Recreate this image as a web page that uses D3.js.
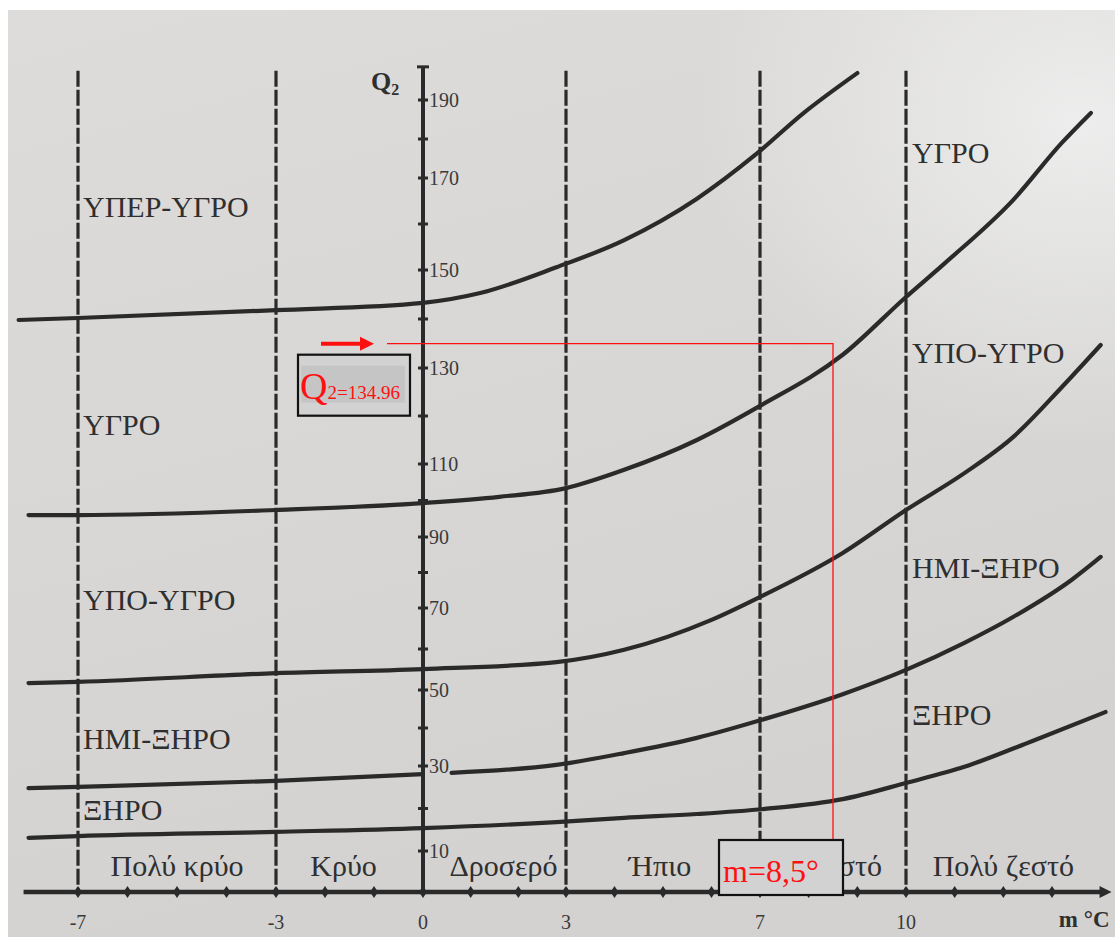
<!DOCTYPE html>
<html lang="el">
<head>
<meta charset="utf-8">
<title>Κλιματόγραμμα Emberger</title>
<script src="https://cdn.jsdelivr.net/npm/d3@7/dist/d3.min.js"></script>
<style>
  html, body { margin: 0; padding: 0; background: #ffffff; }
  svg { display: block; }
  text { font-family: "Liberation Serif", "Times New Roman", serif; }
</style>
</head>
<body>
<svg id="chart" width="1115" height="937"></svg>
<script>
// ---- data -------------------------------------------------------------
// winter minimum temperature m (°C): grid lines and tick labels
const mTicks = [-7, -3, 0, 3, 7, 10];
// pluviothermic quotient Q2: labelled ticks
const q2Ticks = [10, 30, 50, 70, 90, 110, 130, 150, 170, 190];

// bioclimatic zones (left column and right column labels)
const zonesLeft = ["ΥΠΕΡ-ΥΓΡΟ", "ΥΓΡΟ", "ΥΠΟ-ΥΓΡΟ", "ΗΜΙ-ΞΗΡΟ", "ΞΗΡΟ"];
const zonesRight = ["ΥΓΡΟ", "ΥΠΟ-ΥΓΡΟ", "ΗΜΙ-ΞΗΡΟ", "ΞΗΡΟ"];
// Q2 level at which each zone name sits
const zonesLeftQ = [161.5, 116.0, 69.5, 34.5, 17.3];
const zonesRightQ = [173.8, 131.0, 78.5, 40.8];

// winter variants and their m limits
const winterClasses = ["Πολύ κρύο", "Κρύο", "Δροσερό", "Ήπιο", "Ζεστό", "Πολύ ζεστό"];
const winterBounds = [-7, -3, 0, 3, 7, 10, 14];

// zone boundaries as [m, Q2] pairs
const boundaryPerhumid = [
  [-8.2, 139.8], [-7, 140.2], [-3, 141.8], [0, 143.3], [1.2, 145.3], [2.8, 150.6],
  [4.2, 156.5], [5.7, 165.5], [6.9, 175.9], [7.9, 186.7], [9.0, 196.9]
];
const boundaryHumid = [
  [-8.0, 96.0], [-7, 96.0], [-3, 97.4], [0, 99.3], [1.6, 101.0], [3, 103.4],
  [4.2, 108.4], [5.7, 115.0], [7, 122.1], [8.7, 132.7], [10, 144.5],
  [10.8, 151.5], [12.2, 165.2], [13.2, 179.0], [13.8, 186.7]
];
const boundarySubhumid = [
  [-8.0, 51.7], [-7, 52.0], [-3, 54.1], [0, 55.1], [2.8, 56.8], [4.2, 59.8],
  [6.0, 67.1], [7, 73.1], [8.7, 85.5], [10, 97.4], [11.2, 107.5], [12.2, 115.6],
  [13.2, 126.0], [14.0, 134.7]
];
const boundarySemiaridWest = [[-8.0, 24.8], [-7, 25.1], [-3, 26.5], [0, 28.1]];
const boundarySemiaridEast = [
  [0.6, 28.4], [2.8, 30.3], [4.2, 33.4], [5.7, 37.4], [7.1, 42.4], [8.7, 48.9],
  [10, 54.9], [11.2, 61.5], [12.2, 67.8], [13.4, 77.9], [14.0, 84.4]
];
const boundaryArid = [
  [-8.0, 13.1], [-7, 13.5], [-3, 14.5], [0, 15.4], [2.8, 16.8], [4.2, 17.8],
  [5.7, 18.7], [7.1, 19.9], [8.7, 22.2], [10, 26.0], [11.2, 29.8], [12.6, 36.6],
  [14.1, 44.2]
];

// station reading marked on the diagram
const stationQ2 = 134.96;
const stationM = 8.5;

// ---- scales -----------------------------------------------------------
const svg = d3.select("#chart");
const W = 1115, H = 937;

// the printed grid is not perfectly regular, so both scales are piecewise
const x = d3.scaleLinear()
  .domain([-7, -3, 0, 3, 7, 10])
  .range([78, 276, 423, 566, 760, 906]);
const y = d3.scaleLinear()
  .domain([0, 10, 30, 50, 70, 90, 110, 130, 150, 170, 190])
  .range([892, 851, 766, 690, 608, 537, 464, 368, 270, 178, 100]);

const ink = "#2a2a2a";
const textInk = "#2f2f2f";

// ---- paper ------------------------------------------------------------
const defs = svg.append("defs");
const paper = defs.append("linearGradient").attr("id", "paper")
  .attr("x1", "0").attr("y1", "0").attr("x2", "0.3").attr("y2", "1");
paper.append("stop").attr("offset", "0").attr("stop-color", "#dddcda");
paper.append("stop").attr("offset", "1").attr("stop-color", "#d3d2d1");
const glare = defs.append("radialGradient").attr("id", "glare")
  .attr("cx", "0.97").attr("cy", "0.12").attr("r", "0.35");
glare.append("stop").attr("offset", "0").attr("stop-color", "#f2f2f2").attr("stop-opacity", 0.8);
glare.append("stop").attr("offset", "1").attr("stop-color", "#f2f2f2").attr("stop-opacity", 0);

svg.append("rect").attr("width", W).attr("height", H).attr("fill", "#ffffff");
svg.append("rect").attr("x", 8).attr("y", 10).attr("width", W - 8).attr("height", H - 10)
  .attr("fill", "url(#paper)");
svg.append("rect").attr("x", 8).attr("y", 10).attr("width", W - 8).attr("height", H - 10)
  .attr("fill", "url(#glare)");

const g = svg.append("g");

// ---- dashed m grid lines ---------------------------------------------
const gridTopQ = 197.5;
g.selectAll("line.grid")
  .data(mTicks.filter(d => d !== 0))
  .join("line")
  .attr("class", "grid")
  .attr("x1", d => x(d)).attr("x2", d => x(d))
  .attr("y1", y(gridTopQ)).attr("y2", y(0))
  .attr("stroke", ink).attr("stroke-width", 3.2)
  .attr("stroke-dasharray", "16,3");

// ---- zone boundaries --------------------------------------------------
const line = d3.line()
  .x(d => x(d[0]))
  .y(d => y(d[1]))
  .curve(d3.curveMonotoneX);

const boundaries = [boundaryPerhumid, boundaryHumid, boundarySubhumid,
  boundarySemiaridWest, boundarySemiaridEast, boundaryArid];
g.selectAll("path.boundary")
  .data(boundaries)
  .join("path")
  .attr("class", "boundary")
  .attr("d", line)
  .attr("fill", "none")
  .attr("stroke", ink)
  .attr("stroke-width", 4.2)
  .attr("stroke-linecap", "round");

// ---- Q2 axis -----------------------------------------------------------
const axisTopQ = 198.5;
g.append("line")
  .attr("x1", x(0)).attr("x2", x(0))
  .attr("y1", y(axisTopQ)).attr("y2", y(0))
  .attr("stroke", ink).attr("stroke-width", 4);
g.append("line")
  .attr("x1", x(0) - 6).attr("x2", x(0) + 6)
  .attr("y1", y(axisTopQ)).attr("y2", y(axisTopQ))
  .attr("stroke", ink).attr("stroke-width", 3);

const q2Minor = d3.range(10, 200, 10);
g.selectAll("line.qtick")
  .data(q2Minor)
  .join("line")
  .attr("class", "qtick")
  .attr("x1", x(0) - 5).attr("x2", x(0) + 5)
  .attr("y1", d => y(d)).attr("y2", d => y(d))
  .attr("stroke", ink).attr("stroke-width", 3);

g.selectAll("text.qlabel")
  .data(q2Ticks)
  .join("text")
  .attr("class", "qlabel")
  .attr("x", x(0) + 6)
  .attr("y", d => y(d))
  .attr("dy", "0.35em")
  .attr("font-size", 20)
  .attr("fill", "#3a3a3a")
  .text(d => d);

const q2Title = g.append("text")
  .attr("x", x(0) - 52).attr("y", y(190) - 10)
  .attr("font-size", 26).attr("font-weight", "bold").attr("fill", textInk);
q2Title.append("tspan").text("Q");
q2Title.append("tspan").attr("font-size", 16).attr("dy", 5).text("2");

// ---- m axis ------------------------------------------------------------
const axisLeftM = -8.1, axisRightM = 14.1;
g.append("line")
  .attr("x1", x(axisLeftM)).attr("x2", x(axisRightM))
  .attr("y1", y(0)).attr("y2", y(0))
  .attr("stroke", ink).attr("stroke-width", 4.5);
g.append("path")
  .attr("d", `M${x(axisRightM) + 6},${y(0)} l-12,-6 l0,12 z`)
  .attr("fill", ink);

const mMinor = d3.range(-7, 14, 1);
g.selectAll("path.mtick")
  .data(mMinor)
  .join("path")
  .attr("class", "mtick")
  .attr("d", d => `M${x(d)},${y(0) - 6} l4,6 l-4,6 l-4,-6 z`)
  .attr("fill", ink);

g.selectAll("text.mlabel")
  .data(mTicks)
  .join("text")
  .attr("class", "mlabel")
  .attr("x", d => x(d))
  .attr("y", y(0) + 37)
  .attr("text-anchor", "middle")
  .attr("font-size", 20)
  .attr("fill", "#3a3a3a")
  .text(d => d < 0 ? "-" + Math.abs(d) : d);

g.append("text")
  .attr("x", x(axisRightM) + 4).attr("y", y(0) + 35)
  .attr("text-anchor", "end")
  .attr("font-size", 23).attr("font-weight", "bold").attr("fill", textInk)
  .text("m °C");

// ---- zone and winter-variant names -------------------------------------
g.selectAll("text.zoneL")
  .data(zonesLeft)
  .join("text")
  .attr("class", "zoneL")
  .attr("x", x(-7) + 5)
  .attr("y", (d, i) => y(zonesLeftQ[i]))
  .attr("font-size", 30)
  .attr("fill", textInk)
  .text(d => d);

g.selectAll("text.zoneR")
  .data(zonesRight)
  .join("text")
  .attr("class", "zoneR")
  .attr("x", x(10) + 6)
  .attr("y", (d, i) => y(zonesRightQ[i]))
  .attr("font-size", 30)
  .attr("fill", textInk)
  .text(d => d);

// small horizontal nudges so each name sits where it was printed
const winterNudge = [0, -6, 9, -3, 12, 0];
const winterLabelQ = 3.8;
g.selectAll("text.winter")
  .data(winterClasses)
  .join("text")
  .attr("class", "winter")
  .attr("x", (d, i) => (x(winterBounds[i]) + x(winterBounds[i + 1])) / 2 + winterNudge[i])
  .attr("y", y(winterLabelQ))
  .attr("text-anchor", "middle")
  .attr("font-size", 30)
  .attr("fill", textInk)
  .text(d => d);

// ---- station reading ----------------------------------------------------
const red = "#ff1010";
const sy = y(stationQ2), sx = x(stationM);

// pointer arrow and guide lines
g.append("line")
  .attr("x1", 321).attr("x2", 362).attr("y1", sy).attr("y2", sy)
  .attr("stroke", red).attr("stroke-width", 4);
g.append("path")
  .attr("d", `M374,${sy} l-14,-7 l0,14 z`)
  .attr("fill", red);

const mBoxTop = 840;
g.append("path")
  .attr("d", `M387,${sy} H${sx} V${mBoxTop}`)
  .attr("fill", "none").attr("stroke", red).attr("stroke-width", 1.3);

// Q2 value box
const qBox = g.append("g").attr("transform", `translate(298,${sy + 11})`);
qBox.append("rect").attr("width", 112).attr("height", 61)
  .attr("fill", "#d3d2d3").attr("stroke", "#111").attr("stroke-width", 2.2);
qBox.append("rect").attr("x", 3).attr("y", 11).attr("width", 104).attr("height", 37)
  .attr("fill", "#c6c5c6");
const qText = qBox.append("text").attr("x", 2).attr("y", 44).attr("fill", red);
qText.append("tspan").attr("font-size", 38).text("Q");
qText.append("tspan").attr("font-size", 19).text("2=" + d3.format(".2f")(stationQ2));

// m value box
const mBox = g.append("g").attr("transform", `translate(719,${mBoxTop})`);
mBox.append("rect").attr("width", 124).attr("height", 55)
  .attr("fill", "#d3d2d3").attr("stroke", "#111").attr("stroke-width", 2.2);
mBox.append("text").attr("x", 4).attr("y", 42)
  .attr("font-size", 32).attr("fill", red)
  .text("m=" + String(stationM).replace(".", ",") + "°");
</script>
</body>
</html>
